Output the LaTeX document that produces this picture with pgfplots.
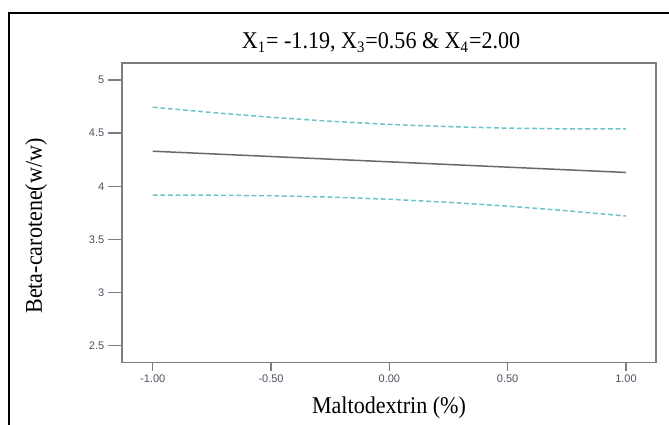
\documentclass[border=0pt]{standalone}
\usepackage{pgfplots}
\pgfplotsset{compat=1.18}
\usepackage{fontspec}
\setmainfont[FakeStretch=0.92]{Liberation Serif}
\setsansfont{Liberation Sans}
\definecolor{cil}{RGB}{110,196,196}
\definecolor{fitc}{RGB}{105,105,105}
\definecolor{axc}{RGB}{125,125,125}
\definecolor{tlc}{RGB}{80,80,100}
\begin{document}
\begin{tikzpicture}[x=0.5pt,y=0.5pt]
\useasboundingbox (0,0) rectangle (669,424);
\fill[white] (0,0) rectangle (669,424);
\draw[black,line width=1pt] (9,-5) -- (9,411) -- (680,411);
\begin{axis}[
  at={(61pt,30.65pt)}, anchor=south west,
  scale only axis, width=267pt, height=149.85pt,
  xmin=-1.13, xmax=1.127, ymin=2.34, ymax=5.16,
  axis line style={axc,line width=0.75pt},
  tick align=outside, xtick pos=lower, ytick pos=left,
  major tick length=4pt,
  xtick={-1,-0.5,0,0.5,1},
  ytick={2.5,3,3.5,4,4.5,5},
  xtick style={axc,line width=0.7pt},
  ytick style={axc,line width=0.7pt,/pgfplots/major tick length=7pt},
  /pgf/number format/assume math mode=true,
  xticklabel style={/pgf/number format/fixed,/pgf/number format/fixed zerofill,/pgf/number format/precision=2, yshift=-0.5pt},
  yticklabel style={xshift=-3.2pt},
  ticklabel style={font=\sffamily\fontsize{5.5}{6}\selectfont, text=tlc, inner sep=1.5pt},
  title={X\textsubscript{1}= -1.19, X\textsubscript{3}=0.56 \& X\textsubscript{4}=2.00},
  title style={at={(rel axis cs:0.5,1)}, anchor=base, yshift=1pt, xshift=-4pt, font=\fontsize{12}{14}\selectfont, inner sep=0pt},
  xlabel={Maltodextrin (\%)},
  xlabel style={at={(rel axis cs:0.5,-0.168)}, anchor=base, font=\fontsize{12}{14}\selectfont, inner sep=0pt},
  ylabel={Beta-carotene(w/w)},
  ylabel style={at={(rel axis cs:-0.161,0.456)}, anchor=center, font=\fontsize{12}{14}\selectfont, inner sep=0pt},
  clip=false,
]
\addplot[fitc, line width=0.75pt] coordinates {(-1,4.33) (1,4.13)};
\addplot[cil, line width=0.75pt, dash pattern=on 2.4pt off 1.4pt] coordinates {
(-1,4.744) (-0.75,4.694) (-0.5,4.649) (-0.25,4.612) (0,4.582) (0.25,4.561) (0.5,4.547) (0.75,4.540) (1,4.540)};
\addplot[cil, line width=0.75pt, dash pattern=on 2.4pt off 1.4pt] coordinates {
(-1,3.916) (-0.75,3.916) (-0.5,3.911) (-0.25,3.898) (0,3.878) (0.25,3.849) (0.5,3.813) (0.75,3.770) (1,3.720)};
\end{axis}
\end{tikzpicture}
\end{document}
